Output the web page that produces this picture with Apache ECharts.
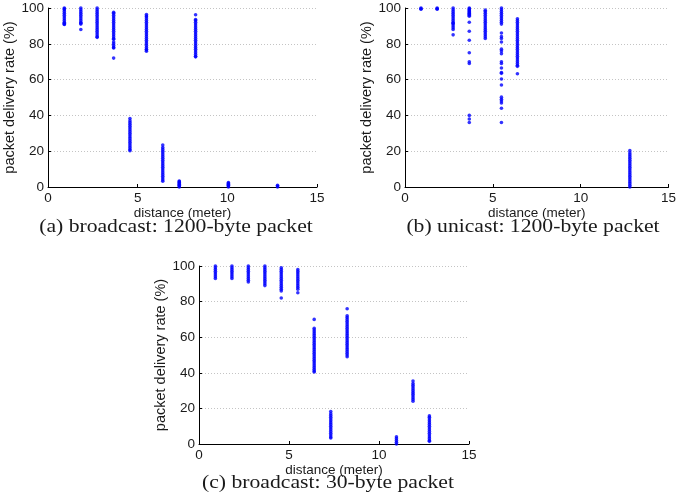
<!DOCTYPE html>
<html>
<head>
<meta charset="utf-8">
<script src="https://cdn.jsdelivr.net/npm/echarts@6/dist/echarts.min.js"></script>
<style>
html,body{margin:0;padding:0;background:#fff;}
#chart{width:679px;height:495px;}
</style>
</head>
<body>
<div id="chart"></div>
<script>
// Panel (a): broadcast, 1200-byte packet
const bcLargeDist = [0.91, 1.83, 2.74, 3.66, 4.57, 5.49, 6.40, 7.32, 8.23, 10.06, 12.80];
const bcLargeRates = [
  [100, 99.5, 99, 98, 97, 96, 95, 94, 93, 92, 91.5, 91, 90.8],
  [100, 99, 98, 97, 96, 95, 94, 93, 92, 91.5, 91, 88],
  [100, 99, 98, 97, 96, 95, 94, 93, 92, 91, 90, 89, 88, 87, 86, 85, 84, 83.6],
  [97.6, 97, 96, 95, 94, 93, 92, 91, 90, 89, 88, 87, 86, 85, 84, 83, 82.5, 81, 80, 79, 78, 77.7, 72],
  [38.3, 37, 36, 35, 34, 33, 32, 31, 30, 29, 28, 27, 26, 25, 24, 23, 22, 21, 20.3],
  [96.4, 95.5, 95, 94, 93, 92, 91, 90, 89, 88, 87, 86, 85, 84, 83, 82, 81, 80, 79, 78, 77, 76.5, 75.8],
  [23.4, 22, 21, 20, 19, 18, 17, 16, 15, 14, 13, 12, 11, 10, 9, 8, 7, 6, 5, 4, 3.2],
  [3.3, 3, 2.5, 2, 1.5, 1, 0.5, 0],
  [96.2, 93.6, 93, 92, 91, 90, 89, 88, 87, 86, 85, 84, 83, 82, 81, 80, 79, 78, 77, 76, 75, 74, 73, 72.7],
  [2.5, 2, 1.5, 1, 0.5, 0],
  [1, 0.5, 0]
];

// Panel (b): unicast, 1200-byte packet
const ucLargeDist = [0.91, 1.83, 2.74, 3.66, 4.57, 5.49, 6.40, 12.80];
const ucLargeRates = [
  [100, 99.6, 99.3],
  [100, 99.6, 99.3],
  [100, 99, 98, 97, 96, 95, 94, 93, 92, 91.5, 91, 90, 89, 88, 85],
  [100, 99.5, 99, 98.5, 98, 97.5, 97, 96.5, 96, 95.4, 92, 87, 82, 75, 70, 69, 40, 38, 36],
  [98.8, 98, 97, 96, 95, 94, 93, 92, 91, 90, 89, 88, 87, 86, 85, 84, 83],
  [100, 99, 98, 97, 96, 95, 94, 93, 92, 91, 86, 84, 83, 81, 77, 76, 74.5, 70, 69, 66.5, 64, 63.5, 60.3, 57, 50.2, 49, 48, 46.9, 44, 36],
  [94, 93, 92, 91, 90, 89, 88, 87, 86, 85, 84, 83, 82, 81, 80, 79, 78, 77, 76, 75, 74, 73, 72, 71, 70, 69, 68, 67.4, 63.3],
  [20.3, 19, 18, 17, 16, 15, 14, 13, 12, 11, 10, 9, 8, 7, 6, 5, 4, 3, 2, 1, 0]
];

// Panel (c): broadcast, 30-byte packet
const bcSmallDist = [0.91, 1.83, 2.74, 3.66, 4.57, 5.49, 6.40, 7.32, 8.23, 10.97, 11.89, 12.80];
const bcSmallRates = [
  [100, 99, 98, 97, 96, 95, 94, 93],
  [100, 99, 98, 97, 96, 95, 94, 93],
  [100, 99, 98, 97, 96, 95, 94, 93, 92, 91],
  [100, 99, 98, 97, 96, 95, 94, 93, 92, 91, 90, 89],
  [99, 98, 97, 96, 95, 94, 93, 92, 91, 90, 89, 88, 87, 86, 82],
  [98, 97, 96, 95, 94, 93, 92, 91, 90, 89, 88, 87, 85],
  [70, 65, 64, 63, 62, 61, 60, 59, 58, 57, 56, 55, 54, 53, 52, 51, 50, 49, 48, 47, 46, 45, 44, 43, 42, 41, 40.5],
  [18.3, 17, 16, 15, 14, 13, 12, 11, 10, 9, 8, 7, 6, 5, 4, 3.4],
  [76, 72, 71, 70, 69, 68, 67, 66, 65, 64, 63, 62, 61, 60, 59, 58, 57, 56, 55, 54, 53, 52, 51, 50, 49],
  [4, 3, 2, 1, 0],
  [35.4, 34, 33, 32, 31, 30, 29, 28, 27, 26, 25, 24],
  [15.8, 15, 14, 13, 12, 11, 10, 9, 8, 7, 6, 5, 4, 3, 2, 1.5]
];

const xTicks = [0, 5, 10, 15];
const yTicks = [0, 20, 40, 60, 80, 100];
const captions = ['(a) broadcast: 1200-byte packet', '(b) unicast: 1200-byte packet', '(c) broadcast: 30-byte packet'];
const xName = 'distance (meter)';
const yName = 'packet delivery rate (%)';

const SANS = '"Liberation Sans", Arial, Helvetica, sans-serif';
const SERIF = '"Liberation Serif", "Times New Roman", serif';

function pts(dist, rates) {
  const out = [];
  dist.forEach((d, i) => rates[i].forEach(r => out.push([d, r])));
  return out;
}

const grids = [
  {left: 48, top: 8, width: 269, height: 179},
  {left: 405, top: 8, width: 268, height: 179},
  {left: 199, top: 266, width: 270, height: 178}
];

function xAxis(i) {
  return {
    gridIndex: i, type: 'value', min: xTicks[0], max: xTicks[xTicks.length - 1], interval: 5,
    name: xName, nameLocation: 'middle', nameGap: 14,
    nameTextStyle: {fontFamily: SANS, fontSize: 13.5, color: '#1a1a1a'},
    axisLine: {show: true, onZero: false, lineStyle: {color: '#000', width: 1}},
    axisTick: {show: true, inside: true, length: 3, lineStyle: {color: '#000'}},
    axisLabel: {fontFamily: SANS, fontSize: 13.5, color: '#1a1a1a', margin: 4},
    splitLine: {show: false}
  };
}
function yAxis(i) {
  return {
    gridIndex: i, type: 'value', min: yTicks[0], max: yTicks[yTicks.length - 1], interval: 20,
    name: yName, nameLocation: 'middle', nameGap: 28,
    nameTextStyle: {fontFamily: SANS, fontSize: 14.5, color: '#1a1a1a'},
    axisLine: {show: true, onZero: false, lineStyle: {color: '#000', width: 1}},
    axisTick: {show: true, inside: true, length: 3, lineStyle: {color: '#000'}},
    axisLabel: {fontFamily: SANS, fontSize: 13.5, color: '#1a1a1a', margin: 4},
    splitLine: {show: true, lineStyle: {color: '#c4c4c4', type: [1, 2], width: 1}}
  };
}

function scatter(i, dist, rates) {
  return {
    type: 'scatter', xAxisIndex: i, yAxisIndex: i,
    data: pts(dist, rates), symbol: 'circle', symbolSize: 3.6,
    itemStyle: {color: '#0000ff'}, clip: false, silent: true, animation: false
  };
}

function caption(text, x, y) {
  return {type: 'text', x: x, y: y, scaleX: 1.14, scaleY: 1,
    style: {text: text, font: '19px ' + SERIF, fill: '#1a1a1a', textAlign: 'center', textVerticalAlign: 'middle'}};
}

const chart = echarts.init(document.getElementById('chart'), null, {renderer: 'canvas'});
chart.setOption({
  backgroundColor: '#fff',
  animation: false,
  grid: grids,
  xAxis: [xAxis(0), xAxis(1), xAxis(2)],
  yAxis: [yAxis(0), yAxis(1), yAxis(2)],
  series: [
    scatter(0, bcLargeDist, bcLargeRates),
    scatter(1, ucLargeDist, ucLargeRates),
    scatter(2, bcSmallDist, bcSmallRates)
  ],
  graphic: [
    caption(captions[0], 176, 227),
    caption(captions[1], 533, 227),
    caption(captions[2], 328, 483)
  ]
});
</script>
</body>
</html>
